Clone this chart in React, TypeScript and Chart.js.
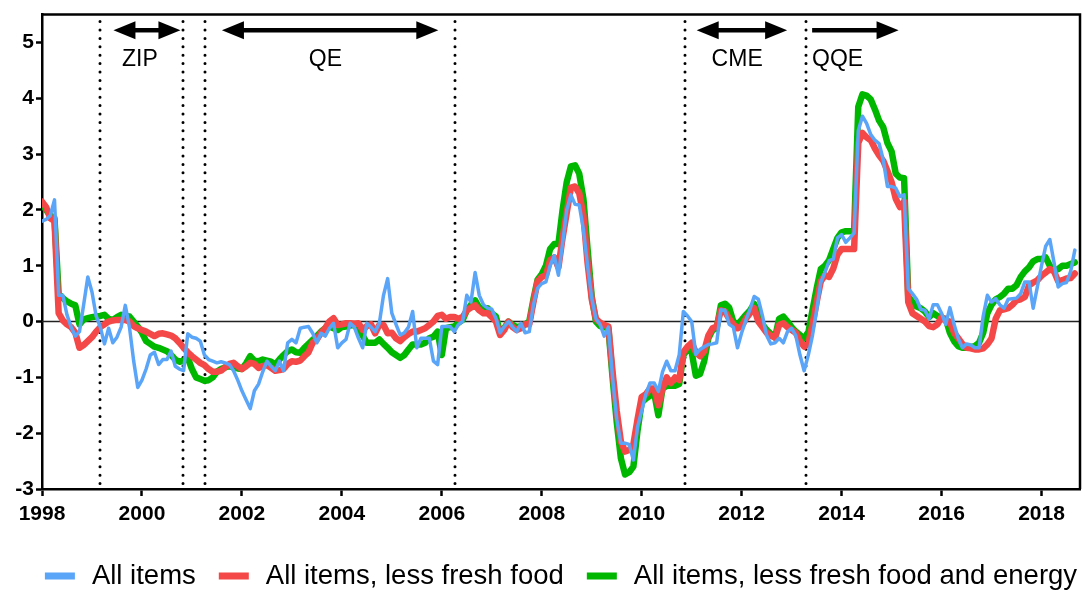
import React, { useEffect, useRef } from "react";
import { Chart, registerables } from "chart.js";

Chart.register(...registerables);

// Monthly year-on-year CPI changes (%), first point at 1998.0, one point per month
const START_YEAR = 1998;

const allItems = [
  1.8, 1.83, 1.9, 2.18, 0.47, 0.47, 0.12, -0.1, -0.26, -0.18, 0.3, 0.8,
  0.53, 0.1, -0.1, -0.4, -0.12, -0.38, -0.28, -0.1, 0.29, -0.1, -0.7, -1.18,
  -1.05, -0.85, -0.6, -0.55, -0.77, -0.68, -0.68, -0.53, -0.8, -0.85, -0.88, -0.22,
  -0.28, -0.3, -0.35, -0.6, -0.68, -0.71, -0.74, -0.72, -0.74, -0.77, -0.88, -1.05,
  -1.24, -1.4, -1.56, -1.24, -1.12, -0.9, -0.71, -0.8, -0.88, -0.71, -0.88, -0.38,
  -0.32, -0.38, -0.12, -0.1, -0.09, -0.21, -0.38, -0.21, -0.26, -0.12, -0.03, -0.47,
  -0.38, -0.32, -0.03, -0.1, -0.3, -0.47, -0.03, -0.1, -0.18, -0.03, 0.47, 0.77,
  0.15, -0.05, -0.24, -0.2, -0.1, 0.18, -0.47, -0.3, -0.3, -0.3, -0.71, -0.77,
  -0.09, -0.09, -0.09, -0.18, -0.05, 0.0, 0.47, 0.35, 0.88, 0.47, 0.3, 0.24,
  0.22, 0.06, -0.2, -0.09, 0.0, -0.1, -0.18, -0.03, -0.2, -0.18, 0.3, 0.6,
  0.68, 0.71, 1.0, 1.18, 0.83, 1.4, 2.0, 2.27, 2.1, 2.09, 1.65, 1.0,
  0.42, 0.05, -0.05, -0.26, -0.1, -1.0, -1.75, -2.18, -2.18, -2.2, -2.48, -1.89,
  -1.6, -1.3, -1.1, -1.1, -1.25, -0.9, -0.71, -0.88, -0.88, -0.6, 0.18, 0.1,
  0.0, -0.59, -0.5, -0.45, -0.41, -0.4, -0.38, 0.21, 0.2, -0.05, -0.1, -0.47,
  -0.2, 0.02, 0.22, 0.45, 0.4, 0.1, -0.25, -0.4, -0.38, -0.3, -0.38, -0.18,
  -0.12, -0.25, -0.6, -0.88, -0.6, -0.25, 0.2, 0.7, 0.88, 1.09, 1.12, 1.5,
  1.56, 1.42, 1.5, 1.59, 3.42, 3.68, 3.55, 3.35, 3.25, 3.19, 2.9, 2.42,
  2.42, 2.39, 2.24, 2.27, 0.59, 0.5, 0.4, 0.22, 0.2, 0.05, 0.3, 0.3,
  0.15, -0.05, 0.25, -0.05, -0.3, -0.47, -0.4, -0.42, -0.47, -0.47, 0.1, 0.47,
  0.35, 0.41, 0.3, 0.24, 0.4, 0.41, 0.42, 0.5, 0.71, 0.71, 0.24, 0.62,
  1.0, 1.35, 1.47, 1.06, 0.62, 0.68, 0.7, 0.9, 1.28,
];

const lessFreshFood = [
  2.15, 2.05, 1.85, 1.8, 0.15, 0.02, -0.05, -0.1, -0.2, -0.47, -0.42, -0.35,
  -0.28, -0.18, -0.1, -0.05, 0.0, 0.02, 0.03, 0.03, 0.03, 0.0, -0.08, -0.12,
  -0.15, -0.18, -0.22, -0.26, -0.22, -0.21, -0.23, -0.25, -0.3, -0.38, -0.47, -0.55,
  -0.62, -0.68, -0.74, -0.78, -0.85, -0.9, -0.9, -0.88, -0.82, -0.76, -0.74, -0.8,
  -0.85, -0.8, -0.74, -0.76, -0.83, -0.8, -0.78, -0.83, -0.88, -0.87, -0.85, -0.76,
  -0.71, -0.72, -0.7, -0.62, -0.55, -0.38, -0.32, -0.2, -0.12, 0.0, 0.06, -0.06,
  -0.05, -0.03, -0.03, -0.04, -0.03, -0.15, -0.08, -0.05, -0.21, -0.06, -0.06, -0.21,
  -0.2, -0.3, -0.35, -0.28, -0.22, -0.18, -0.18, -0.15, -0.12, -0.06, 0.0, 0.1,
  0.12, 0.05, 0.08, 0.08, 0.05, 0.08, 0.2, 0.25, 0.29, 0.2, 0.15, 0.15,
  0.08, 0.0, -0.24, -0.15, 0.0, -0.1, -0.15, -0.12, -0.05, -0.05, 0.35, 0.72,
  0.8, 0.83, 1.1, 1.15, 0.97, 1.5, 1.95, 2.4, 2.42, 2.3, 1.9, 1.05,
  0.4, 0.05, -0.02, -0.06, -0.09, -0.9, -1.6, -2.15, -2.33, -2.3, -2.2, -1.75,
  -1.35, -1.3, -1.2, -1.2, -1.5, -1.2, -1.0, -1.1, -1.0, -1.05, -0.55, -0.45,
  -0.38, -0.55, -0.62, -0.53, -0.25, -0.12, -0.09, 0.2, 0.18, 0.05, -0.05, -0.12,
  -0.08, 0.05, 0.15, 0.24, 0.0, -0.1, -0.2, -0.25, -0.29, -0.06, -0.03, -0.1,
  -0.15, -0.2, -0.35, -0.45, -0.4, -0.05, 0.35, 0.72, 0.83, 0.8, 0.95, 1.2,
  1.3, 1.3, 1.3, 1.3, 3.2, 3.38, 3.3, 3.25, 3.1, 2.98, 2.88, 2.7,
  2.5, 2.2, 2.05, 2.15, 0.35, 0.15, 0.1, 0.05, 0.0, -0.08, -0.1, -0.05,
  0.08, 0.02, 0.0, -0.2, -0.3, -0.4, -0.47, -0.48, -0.5, -0.5, -0.48, -0.41,
  -0.3, 0.05, 0.2, 0.22, 0.24, 0.3, 0.38, 0.4, 0.44, 0.65, 0.7, 0.74,
  0.82, 0.88, 0.94, 0.9, 0.72, 0.74, 0.77, 0.78, 0.86,
];

const lessFreshFoodEnergy = [
  2.1, 2.0, 1.9, 1.85, 0.5, 0.42, 0.36, 0.32, 0.29, -0.05, 0.04, 0.06,
  0.08, 0.09, 0.1, 0.12, 0.05, 0.03, 0.08, 0.12, 0.1, 0.09, 0.0, -0.09,
  -0.2, -0.35, -0.4, -0.45, -0.47, -0.5, -0.53, -0.6, -0.68, -0.72, -0.7, -0.65,
  -0.85, -1.0, -1.03, -1.06, -1.05, -1.0, -0.9, -0.85, -0.82, -0.8, -0.82, -0.84,
  -0.85, -0.75, -0.62, -0.7, -0.71, -0.68, -0.7, -0.72, -0.77, -0.68, -0.6, -0.53,
  -0.5, -0.55, -0.56, -0.47, -0.4, -0.33, -0.26, -0.18, -0.12, -0.09, -0.12, -0.15,
  -0.1, -0.09, -0.07, -0.06, -0.15, -0.25, -0.38, -0.38, -0.38, -0.32, -0.4, -0.47,
  -0.55, -0.6, -0.65, -0.6, -0.5, -0.41, -0.41, -0.41, -0.38, -0.3, -0.27, -0.18,
  -0.6, -0.12, -0.1, -0.09, -0.02, 0.03, 0.2, 0.3, 0.38, 0.25, 0.24, 0.24,
  0.15, 0.09, -0.2, -0.12, 0.0, -0.06, -0.1, -0.08, -0.05, 0.0, 0.4, 0.75,
  0.85, 1.0, 1.3, 1.39, 1.39, 2.0, 2.5, 2.78, 2.8, 2.65, 2.2, 1.3,
  0.45, 0.0, -0.08, -0.1, -0.12, -1.0, -1.8, -2.45, -2.74, -2.7, -2.6, -1.95,
  -1.45, -1.38, -1.33, -1.28, -1.68, -1.2, -1.15, -1.15, -1.15, -1.12, -0.6, -0.5,
  -0.55, -0.97, -0.94, -0.71, -0.3, -0.15, -0.12, 0.29, 0.32, 0.25, 0.0, -0.05,
  0.03, 0.12, 0.2, 0.32, 0.15, -0.05, -0.15, -0.22, -0.29, 0.05, 0.09, 0.0,
  -0.1, -0.18, -0.24, -0.3, -0.2, 0.2, 0.59, 0.94, 1.0, 1.1, 1.3, 1.5,
  1.6, 1.62, 1.62, 1.62, 3.85, 4.07, 4.05, 3.98, 3.8, 3.6, 3.48, 3.2,
  3.05, 2.65, 2.58, 2.57, 0.45, 0.35, 0.27, 0.24, 0.18, 0.08, 0.15, 0.1,
  0.06, 0.05, -0.2, -0.35, -0.44, -0.47, -0.47, -0.46, -0.44, -0.38, -0.2, 0.15,
  0.3, 0.4, 0.44, 0.5, 0.59, 0.59, 0.65, 0.8, 0.9, 0.97, 1.08, 1.12,
  1.12, 1.15, 1.0, 0.92, 0.94, 1.0, 1.0, 1.03, 1.06,
];

const seriesNames = [
  "All items",
  "All items, less fresh food",
  "All items, less fresh food and energy",
];
const seriesColors = ["#5aa5f7", "#f44848", "#00b700"];
const seriesWidths = [3.5, 6.5, 6.5];

const xTicks = [1998, 2000, 2002, 2004, 2006, 2008, 2010, 2012, 2014, 2016, 2018];
const yTicks = [-3, -2, -1, 0, 1, 2, 3, 4, 5];

// Policy regime boundaries (decimal years)
const policyLines = [1999.16, 2000.83, 2001.26, 2006.27, 2010.86, 2013.28];
// Arrow annotations
const arrowLabels = ["ZIP", "QE", "CME", "QQE"];
const arrowFrom = [1999.43, 2001.6, 2011.1, 2013.41];
const arrowTo = [2000.77, 2005.93, 2012.91, 2015.14];
const arrowTwoHeads = [true, true, true, false];
const labelAt = [1999.96, 2003.67, 2011.91, 2013.92];
const arrowLevel = 5.22;
const labelLevel = 4.69;

const toPoints = (vals: number[]) =>
  vals.map((v, i) => ({ x: START_YEAR + i / 12, y: v }));

const FONT = "'Liberation Sans', Arial, Helvetica, sans-serif";

function drawArrow(ctx: CanvasRenderingContext2D, x1: number, x2: number, y: number, both: boolean) {
  const head = 22;
  const half = 9;
  ctx.lineWidth = 4.5;
  ctx.lineCap = "butt";
  ctx.beginPath();
  ctx.moveTo(both ? x1 + head - 2 : x1, y);
  ctx.lineTo(x2 - head + 2, y);
  ctx.stroke();
  ctx.beginPath();
  ctx.moveTo(x2, y);
  ctx.lineTo(x2 - head, y - half);
  ctx.lineTo(x2 - head, y + half);
  ctx.closePath();
  ctx.fill();
  if (both) {
    ctx.beginPath();
    ctx.moveTo(x1, y);
    ctx.lineTo(x1 + head, y - half);
    ctx.lineTo(x1 + head, y + half);
    ctx.closePath();
    ctx.fill();
  }
}

const decorPlugin = {
  id: "decor",
  beforeDatasetsDraw(chart: any) {
    const { ctx, chartArea: a, scales } = chart;
    const x = scales.x;
    const y = scales.y;
    ctx.save();
    // zero line
    const y0 = y.getPixelForValue(0);
    ctx.strokeStyle = "#222";
    ctx.lineWidth = 1.5;
    ctx.beginPath();
    ctx.moveTo(a.left, y0);
    ctx.lineTo(a.right, y0);
    ctx.stroke();
    // dotted policy lines
    ctx.strokeStyle = "#000";
    ctx.lineWidth = 3;
    ctx.lineCap = "round";
    ctx.setLineDash([0, 8.4]);
    policyLines.forEach((v) => {
      const px = Math.round(x.getPixelForValue(v));
      ctx.beginPath();
      ctx.moveTo(px, a.top + 7);
      ctx.lineTo(px, a.bottom - 2);
      ctx.stroke();
    });
    ctx.restore();
  },
  afterDraw(chart: any) {
    const { ctx, chartArea: a, scales } = chart;
    const x = scales.x;
    const y = scales.y;
    ctx.save();
    // top and right frame
    ctx.strokeStyle = "#000";
    ctx.lineWidth = 2.5;
    ctx.beginPath();
    ctx.moveTo(a.left, a.top);
    ctx.lineTo(a.right, a.top);
    ctx.lineTo(a.right, a.bottom);
    ctx.stroke();
    // arrows + labels
    ctx.fillStyle = "#000";
    const ay = y.getPixelForValue(arrowLevel);
    const ly = y.getPixelForValue(labelLevel);
    ctx.font = `23px ${FONT}`;
    ctx.textAlign = "center";
    ctx.textBaseline = "middle";
    arrowLabels.forEach((lab, i) => {
      drawArrow(ctx, x.getPixelForValue(arrowFrom[i]), x.getPixelForValue(arrowTo[i]), ay, arrowTwoHeads[i]);
      ctx.fillText(lab, x.getPixelForValue(labelAt[i]), ly);
    });
    // legend
    ctx.font = `27.5px ${FONT}`;
    ctx.textAlign = "left";
    const mark = 30;
    const gapText = 17;
    const gapItem = 23;
    const widths = seriesNames.map((n) => ctx.measureText(n).width);
    const total = widths.reduce((s, w) => s + w, 0) + seriesNames.length * (mark + gapText) + (seriesNames.length - 1) * gapItem;
    let cx = (a.left + a.right) / 2 - total / 2;
    const cy = 576;
    seriesNames.forEach((n, i) => {
      ctx.fillStyle = seriesColors[i];
      ctx.fillRect(cx, cy - 3.5, mark, 7);
      cx += mark + gapText;
      ctx.fillStyle = "#000";
      ctx.fillText(n, cx, cy);
      cx += widths[i] + gapItem;
    });
    ctx.restore();
  },
};

export default function App() {
  const ref = useRef<HTMLCanvasElement | null>(null);
  useEffect(() => {
    if (!ref.current) return;
    const seriesData = [allItems, lessFreshFood, lessFreshFoodEnergy];
    const chart = new Chart(ref.current, {
      type: "line",
      data: {
        datasets: seriesData.map((vals, i) => ({
          label: seriesNames[i],
          data: toPoints(vals),
          borderColor: seriesColors[i],
          backgroundColor: seriesColors[i],
          borderWidth: seriesWidths[i],
          pointRadius: 0,
          tension: 0,
          borderJoinStyle: "round" as const,
          borderCapStyle: "round" as const,
          fill: false,
        })),
      },
      options: {
        animation: false,
        responsive: false,
        devicePixelRatio: 1,
        layout: { padding: { left: 0, right: 5, top: 10, bottom: 0 } },
        plugins: { legend: { display: false }, tooltip: { enabled: false } },
        scales: {
          x: {
            type: "linear",
            min: 1998,
            max: 2018.77,
            afterBuildTicks: (s: any) => {
              s.ticks = xTicks.map((v) => ({ value: v }));
            },
            afterFit: (s: any) => {
              s.height = 105;
            },
            ticks: {
              autoSkip: false,
              maxRotation: 0,
              color: "#000",
              padding: 6,
              font: { family: FONT, size: 21, weight: "bold" },
              callback: (v: any) => String(v),
            },
            grid: {
              display: true,
              drawOnChartArea: false,
              drawTicks: true,
              tickLength: 7,
              tickWidth: 2.5,
              tickColor: "#000",
            },
            border: { display: true, color: "#000", width: 2.5 },
          },
          y: {
            type: "linear",
            min: -3,
            max: 5.5,
            afterBuildTicks: (s: any) => {
              s.ticks = yTicks.map((v) => ({ value: v }));
            },
            afterFit: (s: any) => {
              s.width = 42;
            },
            ticks: {
              color: "#000",
              padding: 2,
              font: { family: FONT, size: 21, weight: "bold" },
              callback: (v: any) => String(v),
            },
            grid: {
              display: true,
              drawOnChartArea: false,
              drawTicks: true,
              tickLength: 6,
              tickWidth: 2.5,
              tickColor: "#000",
            },
            border: { display: true, color: "#000", width: 2.5 },
          },
        },
      },
      plugins: [decorPlugin],
    } as any);
    return () => chart.destroy();
  }, []);
  return (
    <div style={{ position: "fixed", left: 0, top: 0, width: 1085, height: 594, background: "#fff" }}>
      <canvas ref={ref} width={1085} height={594} style={{ display: "block", width: 1085, height: 594 }} />
    </div>
  );
}
